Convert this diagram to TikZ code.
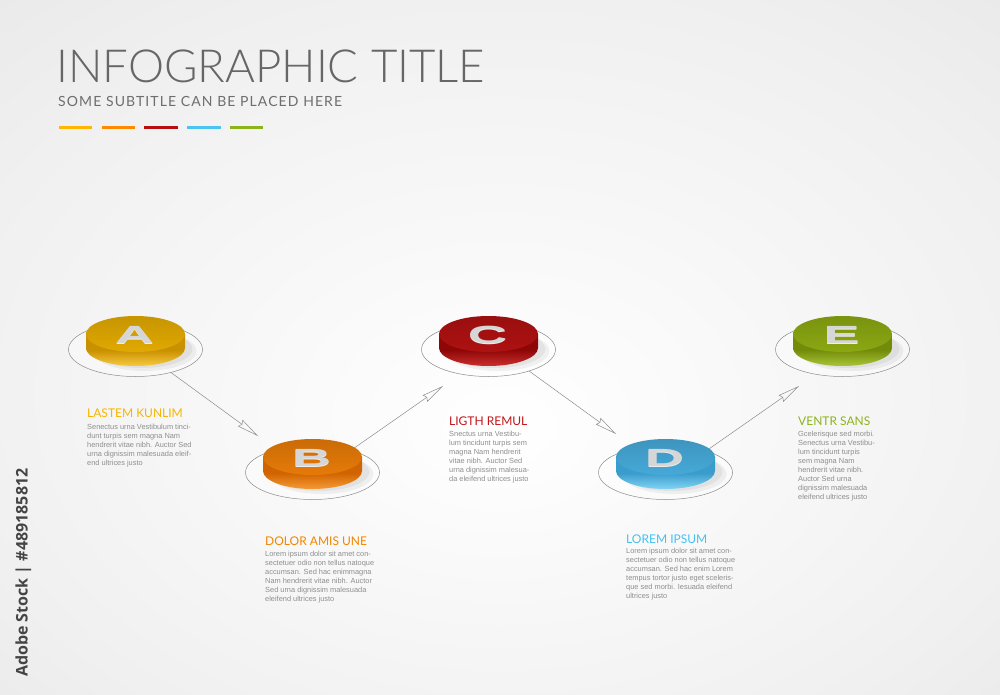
\documentclass[tikz,border=0pt]{standalone}
\usepackage{fontspec}
\usepackage{graphicx}
\usetikzlibrary{shapes.geometric,arrows.meta}
\IfFontExistsTF{Lato Light}{\newfontfamily\titlefont{Lato Light}}{\newfontfamily\titlefont{Lato}}
\newfontfamily\headfont{Lato}
\newfontfamily\subfont{Lato}[LetterSpace=7.8]
\newfontfamily\bodyfont{Liberation Sans}
\newfontfamily\letterfont{Liberation Sans}
\newfontfamily\wmfont{Open Sans}
\definecolor{bgout}{HTML}{E1E1E1}
\definecolor{bgmid}{HTML}{F0F0F0}
\definecolor{titlegray}{HTML}{666666}
\definecolor{subgray}{HTML}{6E6E6E}
\definecolor{bodygray}{HTML}{8E8E8E}
\definecolor{ringgray}{HTML}{8C8C8C}
\definecolor{arrgray}{HTML}{8C8C8C}
\definecolor{cYel}{HTML}{FFB600}
\definecolor{cOra}{HTML}{FF8A00}
\definecolor{cRed}{HTML}{B40E0E}
\definecolor{cBlu}{HTML}{4BC4F5}
\definecolor{cGrn}{HTML}{8DB21C}
\definecolor{hYel}{HTML}{F7B500}
\definecolor{hOra}{HTML}{F28600}
\definecolor{hRed}{HTML}{C3161B}
\definecolor{hBlu}{HTML}{45C1F1}
\definecolor{hGrn}{HTML}{8CB31D}
\definecolor{fA}{HTML}{E1A900}\definecolor{dA}{HTML}{C99000}\definecolor{lA}{HTML}{F8C940}
\definecolor{fB}{HTML}{E67A08}\definecolor{dB}{HTML}{CF6400}\definecolor{lB}{HTML}{F89A34}
\definecolor{fC}{HTML}{AE1111}\definecolor{dC}{HTML}{8E0707}\definecolor{lC}{HTML}{CC2E2E}
\definecolor{fD}{HTML}{46A9D8}\definecolor{dD}{HTML}{3A9CCB}\definecolor{lD}{HTML}{82D3F4}
\definecolor{fE}{HTML}{8BA712}\definecolor{dE}{HTML}{728C0A}\definecolor{lE}{HTML}{A9C536}
\definecolor{letface}{HTML}{D6D6D6}
\definecolor{letside}{HTML}{EDEDED}
\definecolor{wmgray}{HTML}{444444}
\pgfdeclareradialshading{bgglow}{\pgfpoint{0bp}{-6bp}}{color(0bp)=(white); color(28bp)=(bgmid); color(50bp)=(bgout)}
% #1 x, #2 face centre y, #3 face, #4 side dark, #5 side light, #6 letter, #7 name
\newcommand\mydisc[7]{%
  \fill[black,opacity=0.05] (#1+9,#2+17) ellipse [x radius=52, y radius=20];
  \fill[black,opacity=0.05] (#1+6,#2+15) ellipse [x radius=51, y radius=19];
  \shade[top color=#4, bottom color=#5, middle color=#4] (#1-49.5,#2) -- (#1-49.5,#2+14)
     arc[start angle=180, end angle=0, x radius=49.5, y radius=18] -- (#1+49.5,#2) -- cycle;
  \shade[top color=#3!88!black, bottom color=#3] (#1,#2) ellipse [x radius=49.5, y radius=18];
  \node[text=letside, inner sep=0pt] (#7s) at (#1-1,#2+2.0) {\letterfont\bfseries\fontsize{54}{54}\selectfont\scalebox{1}[0.46]{#6}};
  \node[text=letface, inner sep=0pt] (#7) at (#1-1,#2+0.5) {\letterfont\bfseries\fontsize{54}{54}\selectfont\scalebox{1}[0.46]{#6}};
}
\begin{document}
\begin{tikzpicture}[x=1pt,y=-1pt,
  ring/.style={ellipse, draw=ringgray, line width=0.5pt, fill=white, fill opacity=0.35,
    minimum width=134pt, minimum height=54pt, inner sep=0pt},
  arr/.style={draw=arrgray, line width=0.5pt, -{Stealth[open, length=22pt, width=8pt, inset=2pt]}},
  head/.style={anchor=base west, inner sep=0pt, font=\headfont\fontsize{12}{12}\selectfont},
  body/.style={anchor=north west, inner sep=0pt, align=left, text=bodygray,
    font=\bodyfont\fontsize{7.4}{9}\selectfont}]
\useasboundingbox (0,0) rectangle (1000,695);
\shade[shading=bgglow] (0,0) rectangle (1000,695);

% title
\node[anchor=base west, inner sep=0pt, text=titlegray, font=\titlefont\fontsize{45.6}{46}\selectfont] (title) at (56,82.3) {INFOGRAPHIC TITLE};
\node[anchor=base west, inner sep=0pt, text=subgray, font=\subfont\fontsize{14}{14}\selectfont] (subtitle) at (58,106.7) {SOME SUBTITLE CAN BE PLACED HERE};
\fill[cYel] (59,126) rectangle (91.7,129.3);
\fill[cOra] (101.7,126) rectangle (135,129.3);
\fill[cRed] (144.3,126) rectangle (177.7,129.3);
\fill[cBlu] (187.3,126) rectangle (220.7,129.3);
\fill[cGrn] (230,126) rectangle (263.3,129.3);

% rings
\node[ring] (oA) at (135.5,349.5) {};
\node[ring] (oB) at (312.5,472.5) {};
\node[ring] (oC) at (488.5,349.5) {};
\node[ring] (oD) at (665.5,472.5) {};
\node[ring] (oE) at (842.5,349.5) {};

% arrows
\coordinate (tAB) at (258,436);
\coordinate (tBC) at (443,386);
\coordinate (tCD) at (616,434);
\coordinate (tDE) at (799,386);
\draw[arr] (oA.-33) -- (tAB);
\draw[arr] (oB.30) -- (tBC);
\draw[arr] (oC.-28) -- (tCD);
\draw[arr] (oD.28) -- (tDE);

% discs
\mydisc{135.5}{334}{fA}{dA}{lA}{A}{lettA}
\mydisc{312.5}{457}{fB}{dB}{lB}{B}{lettB}
\mydisc{488.5}{334}{fC}{dC}{lC}{C}{lettC}
\mydisc{665.5}{457}{fD}{dD}{lD}{D}{lettD}
\mydisc{842.5}{334}{fE}{dE}{lE}{E}{lettE}

% texts
\node[head, text=hYel] (hA) at (87,417) {LASTEM KUNLIM};
\node[body] (bA) at (87,423.7) {Senectus urna Vestibulum tinci-\\dunt turpis sem magna Nam\\hendrerit vitae nibh. Auctor Sed\\urna dignissim malesuada eleif-\\end ultrices justo};
\node[head, text=hOra] (hB) at (265,545) {DOLOR AMIS UNE};
\node[body] (bB) at (265,550.7) {Lorem ipsum dolor sit amet con-\\sectetuer odio non tellus natoque\\accumsan. Sed hac enimmagna\\Nam hendrerit vitae nibh. Auctor\\Sed urna dignissim malesuada\\eleifend ultrices justo};
\node[head, text=hRed] (hC) at (449,425) {LIGTH REMUL};
\node[body] (bC) at (449,430.7) {Snectus urna Vestibu-\\lum tincidunt turpis sem\\magna Nam hendrerit\\vitae nibh. Auctor Sed\\urna dignissim malesua-\\da eleifend ultrices justo};
\node[head, text=hBlu] (hD) at (626,543) {LOREM IPSUM};
\node[body] (bD) at (626,547.7) {Lorem ipsum dolor sit amet con-\\sectetuer odio non tellus natoque\\accumsan. Sed hac enim Lorem\\tempus tortor justo eget sceleris-\\que sed morbi. Iesuada eleifend\\ultrices justo};
\node[head, text=hGrn] (hE) at (798,425) {VENTR SANS};
\node[body] (bE) at (798,430.7) {Gcelerisque sed morbi.\\Senectus urna Vestibu-\\lum tincidunt turpis\\sem magna Nam\\hendrerit vitae nibh.\\Auctor Sed urna\\dignissim malesuada\\eleifend ultrices justo};

% vertical credit
\node[rotate=90, anchor=base west, inner sep=0pt, text=wmgray, font=\wmfont\bfseries\fontsize{16}{16}\selectfont] (credit) at (27.5,677) {Adobe Stock | \#489185812};
\end{tikzpicture}
\end{document}
